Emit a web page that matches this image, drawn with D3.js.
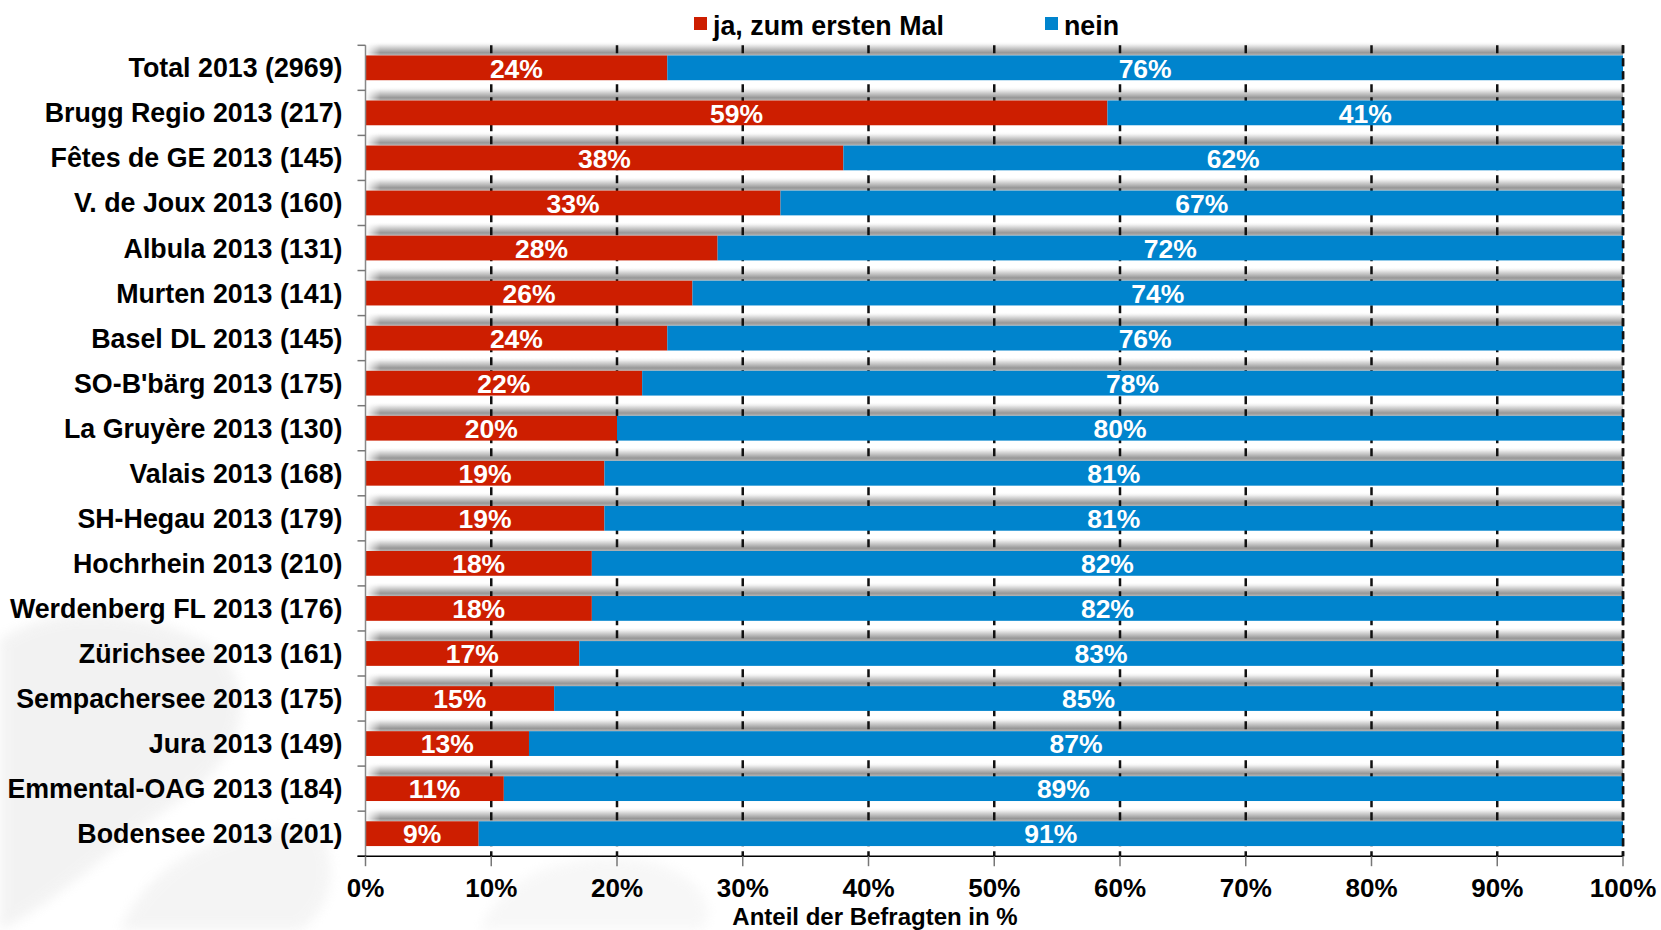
<!DOCTYPE html>
<html>
<head>
<meta charset="utf-8">
<script src="https://cdn.jsdelivr.net/npm/d3@7"></script>
<style>
  html, body { margin: 0; padding: 0; background: #fff; }
  svg { display: block; font-family: "Liberation Sans", Arial, Helvetica, sans-serif; font-weight: bold; }
</style>
</head>
<body>
<svg id="chart" width="1661" height="930"></svg>
<script>
const categories = [
  "Total 2013 (2969)", "Brugg Regio 2013 (217)", "Fêtes de GE 2013 (145)", "V. de Joux 2013 (160)",
  "Albula 2013 (131)", "Murten 2013 (141)", "Basel DL 2013 (145)", "SO-B'bärg 2013 (175)",
  "La Gruyère 2013 (130)", "Valais 2013 (168)", "SH-Hegau 2013 (179)", "Hochrhein 2013 (210)",
  "Werdenberg FL 2013 (176)", "Zürichsee 2013 (161)", "Sempachersee 2013 (175)", "Jura 2013 (149)",
  "Emmental-OAG 2013 (184)", "Bodensee 2013 (201)"
];
const jaValues   = [24, 59, 38, 33, 28, 26, 24, 22, 20, 19, 19, 18, 18, 17, 15, 13, 11, 9];
const neinValues = [76, 41, 62, 67, 72, 74, 76, 78, 80, 81, 81, 82, 82, 83, 85, 87, 89, 91];
const seriesNames = ["ja, zum ersten Mal", "nein"];
const seriesColors = ["#cd1e00", "#0084cd"];
const xTicks = [0, 10, 20, 30, 40, 50, 60, 70, 80, 90, 100];
const axisTitle = "Anteil der Befragten in %";

(function () {
const svg = d3.select("#chart");
const pLeft = 365.5, pRight = 1623, pTop = 45.3, pBottom = 856.2;

const x = d3.scaleLinear().domain([0, 100]).range([pLeft, pRight]);
const y = d3.scaleBand().domain(categories).range([pTop, pBottom]).paddingInner(0.45).paddingOuter(0.225);
const step = y.step();

// faint background watermark
const defs = svg.append("defs");
defs.append("filter").attr("id", "blur").append("feGaussianBlur").attr("stdDeviation", 6);
const wm = svg.append("g").attr("opacity", 0.45).attr("filter", "url(#blur)");
wm.append("path").attr("d", "M0,640 C60,600 150,610 220,650 C260,700 240,760 180,800 C120,840 60,900 0,930 Z").attr("fill", "#e4e4e4");
wm.append("path").attr("d", "M120,930 C150,860 230,820 320,830 C340,870 330,910 300,930 Z").attr("fill", "#e8e8e8");
wm.append("path").attr("d", "M480,930 C500,880 560,850 640,860 C700,870 720,910 700,930 Z").attr("fill", "#eeeeee");

// shadow gradient above each bar
const grad = defs.append("linearGradient").attr("id", "shadow").attr("x1", 0).attr("y1", 0).attr("x2", 0).attr("y2", 1);
grad.append("stop").attr("offset", 0).attr("stop-color", "#ffffff").attr("stop-opacity", 0);
grad.append("stop").attr("offset", 0.3).attr("stop-color", "#e6e6e6").attr("stop-opacity", 1);
grad.append("stop").attr("offset", 0.8).attr("stop-color", "#979797").attr("stop-opacity", 1);
grad.append("stop").attr("offset", 1).attr("stop-color", "#b4b4b4").attr("stop-opacity", 1);
const hgrad = defs.append("linearGradient").attr("id", "hfade").attr("x1", 0).attr("y1", 0).attr("x2", 1).attr("y2", 0);
hgrad.append("stop").attr("offset", 0).attr("stop-color", "#fff").attr("stop-opacity", 0);
hgrad.append("stop").attr("offset", 0.012).attr("stop-color", "#fff").attr("stop-opacity", 1);
hgrad.append("stop").attr("offset", 1).attr("stop-color", "#fff").attr("stop-opacity", 1);
const mask = defs.append("mask").attr("id", "fadeMask").attr("maskUnits", "userSpaceOnUse")
  .attr("x", 0).attr("y", 0).attr("width", 1661).attr("height", 930);
mask.append("rect").attr("x", pLeft).attr("y", 0).attr("width", pRight - pLeft).attr("height", 930).attr("fill", "url(#hfade)");

svg.append("g").attr("mask", "url(#fadeMask)")
  .selectAll("rect").data(categories).join("rect")
  .attr("x", pLeft + 1).attr("width", pRight - pLeft - 1)
  .attr("y", d => y(d) - 14).attr("height", 14)
  .attr("fill", "url(#shadow)");

// dashed gridlines (behind bars)
svg.append("g").selectAll("line").data(xTicks.filter(t => t > 0)).join("line")
  .attr("x1", d => x(d)).attr("x2", d => x(d))
  .attr("y1", pTop).attr("y2", pBottom)
  .attr("stroke", "#111").attr("stroke-width", 2.5).attr("stroke-dasharray", "8,5");

// stacked bars
const rows = categories.map((c, i) => ({ c, vals: [jaValues[i], neinValues[i]] }));
const stacked = d3.stack().keys([0, 1]).value((d, k) => d.vals[k])(rows);

const barG = svg.append("g");
stacked.forEach((layer, k) => {
  barG.append("g").selectAll("rect").data(layer).join("rect")
    .attr("x", d => x(d[0]))
    .attr("width", d => x(d[1]) - x(d[0]))
    .attr("y", d => y(d.data.c))
    .attr("height", y.bandwidth())
    .attr("fill", seriesColors[k]);
});

// value labels
stacked.forEach((layer, k) => {
  barG.append("g").selectAll("text").data(layer).join("text")
    .attr("x", d => x((d[0] + d[1]) / 2))
    .attr("y", d => y(d.data.c) + y.bandwidth() / 2 + 9.8)
    .attr("text-anchor", "middle")
    .attr("fill", "#fff")
    .attr("font-size", 26.5)
    .text(d => (d[1] - d[0]) + "%");
});

// 100% dashed line on top at right edge
svg.append("line")
  .attr("x1", x(100)).attr("x2", x(100)).attr("y1", pTop).attr("y2", pBottom)
  .attr("stroke", "#111").attr("stroke-width", 2.5).attr("stroke-dasharray", "8,5");

// y axis
const yAxisG = svg.append("g");
yAxisG.append("line").attr("x1", pLeft).attr("x2", pLeft).attr("y1", pTop).attr("y2", pBottom)
  .attr("stroke", "#888").attr("stroke-width", 1.5);
const boundaries = d3.range(categories.length + 1).map(i => pTop + i * step);
yAxisG.selectAll("line.tk").data(boundaries).join("line").attr("class", "tk")
  .attr("x1", pLeft - 8).attr("x2", pLeft).attr("y1", d => d).attr("y2", d => d)
  .attr("stroke", "#777").attr("stroke-width", 1.5);
yAxisG.selectAll("text").data(categories).join("text")
  .attr("x", pLeft - 23)
  .attr("y", d => y(d) + y.bandwidth() / 2 + 9.5)
  .attr("text-anchor", "end")
  .attr("font-size", 26.8)
  .attr("fill", "#000")
  .text(d => d);

// x axis
const xAxisG = svg.append("g");
xAxisG.append("line").attr("x1", pLeft - 8).attr("x2", pRight).attr("y1", pBottom).attr("y2", pBottom)
  .attr("stroke", "#000").attr("stroke-width", 1.5);
xAxisG.selectAll("line.tk").data(xTicks).join("line").attr("class", "tk")
  .attr("x1", d => x(d)).attr("x2", d => x(d)).attr("y1", pBottom).attr("y2", pBottom + 10)
  .attr("stroke", "#777").attr("stroke-width", 1.5);
xAxisG.selectAll("text").data(xTicks).join("text")
  .attr("x", d => x(d)).attr("y", 897)
  .attr("text-anchor", "middle")
  .attr("font-size", 26)
  .attr("fill", "#000")
  .text(d => d + "%");
svg.append("text")
  .attr("x", 875).attr("y", 925)
  .attr("text-anchor", "middle")
  .attr("font-size", 24)
  .attr("fill", "#000")
  .text(axisTitle);

// legend
const legendX = [694, 1045];
const leg = svg.append("g");
seriesNames.forEach((name, k) => {
  leg.append("rect").attr("x", legendX[k]).attr("y", 17).attr("width", 13).attr("height", 13).attr("fill", seriesColors[k]);
  leg.append("text").attr("x", legendX[k] + 19).attr("y", 35).attr("font-size", 26.8).attr("fill", "#000").text(name);
});
})();
</script>
</body>
</html>
